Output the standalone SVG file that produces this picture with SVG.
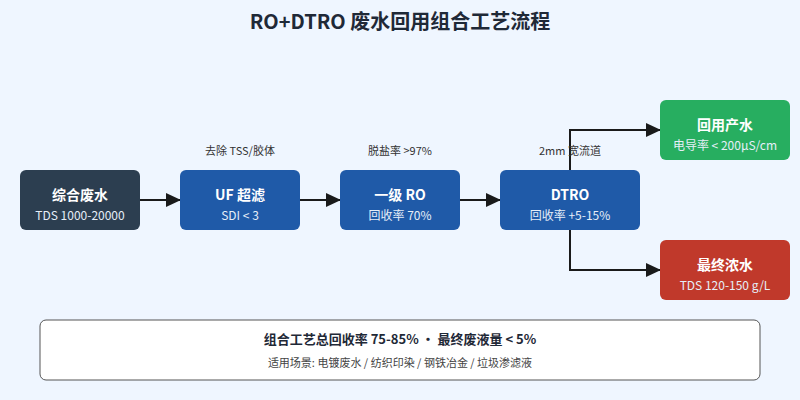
<svg xmlns="http://www.w3.org/2000/svg" width="800" height="400" viewBox="0 0 800 400">
<defs>
<marker id="arr" markerWidth="15" markerHeight="14" refX="14" refY="7" orient="auto" markerUnits="userSpaceOnUse" viewBox="0 0 15 14"><path d="M0,0 L15,7 L0,14 z" fill="#1a1a1a"/></marker>
<style>
text{font-family:"Noto Sans CJK SC","Noto Sans",sans-serif;text-anchor:middle}
.t{font-size:14px;font-weight:bold;fill:#fff}
.s{font-size:12px;fill:#e6eef8}
.lbl{font-size:11px;fill:#333}
.c{fill:none;stroke:#1a1a1a;stroke-width:2;marker-end:url(#arr)}
</style>
</defs>
<rect width="800" height="400" fill="#eff6ff"/>
<text x="400" y="29" style="font-size:20px;font-weight:bold;fill:#1f2937">RO+DTRO 废水回用组合工艺流程</text>
<g id="connectors">
<path class="c" d="M140,200 H180"/>
<path class="c" d="M300,200 H340"/>
<path class="c" d="M460,200 H500"/>
<path class="c" d="M570,170 V130 H660"/>
<path class="c" d="M570,230 V270 H660"/>
<text class="lbl" x="240" y="155">去除 TSS/胶体</text>
<text class="lbl" x="400" y="155">脱盐率 &gt;97%</text>
<text class="lbl" x="570" y="155">2mm 宽流道</text>
</g>
<g id="feed"><rect x="20" y="170" width="120" height="60" rx="6" fill="#2c3e50"/><text class="t" x="80" y="200">综合废水</text><text class="s" x="80" y="220">TDS 1000-20000</text></g>
<g id="uf"><rect x="180" y="170" width="120" height="60" rx="6" fill="#1f5aa8"/><text class="t" x="240" y="200">UF 超滤</text><text class="s" x="240" y="220">SDI &lt; 3</text></g>
<g id="ro"><rect x="340" y="170" width="120" height="60" rx="6" fill="#1f5aa8"/><text class="t" x="400" y="200">一级 RO</text><text class="s" x="400" y="220">回收率 70%</text></g>
<g id="dtro"><rect x="500" y="170" width="140" height="60" rx="6" fill="#1f5aa8"/><text class="t" x="570" y="200">DTRO</text><text class="s" x="570" y="220">回收率 +5-15%</text></g>
<g id="product"><rect x="660" y="100" width="130" height="60" rx="6" fill="#27ae60"/><text class="t" x="725" y="130">回用产水</text><text class="s" x="725" y="150">电导率 &lt; 200μS/cm</text></g>
<g id="brine"><rect x="660" y="240" width="130" height="60" rx="6" fill="#c0392b"/><text class="t" x="725" y="270">最终浓水</text><text class="s" x="725" y="290">TDS 120-150 g/L</text></g>
<g id="summary"><rect x="40" y="320" width="720" height="60" rx="6" fill="#fff" stroke="#555" stroke-width="1"/><text x="400" y="344" style="font-size:13px;font-weight:bold;fill:#1f2937">组合工艺总回收率 75-85% · 最终废液量 &lt; 5%</text><text x="400" y="367" style="font-size:11px;fill:#444">适用场景: 电镀废水 / 纺织印染 / 钢铁冶金 / 垃圾渗滤液</text></g>
</svg>
